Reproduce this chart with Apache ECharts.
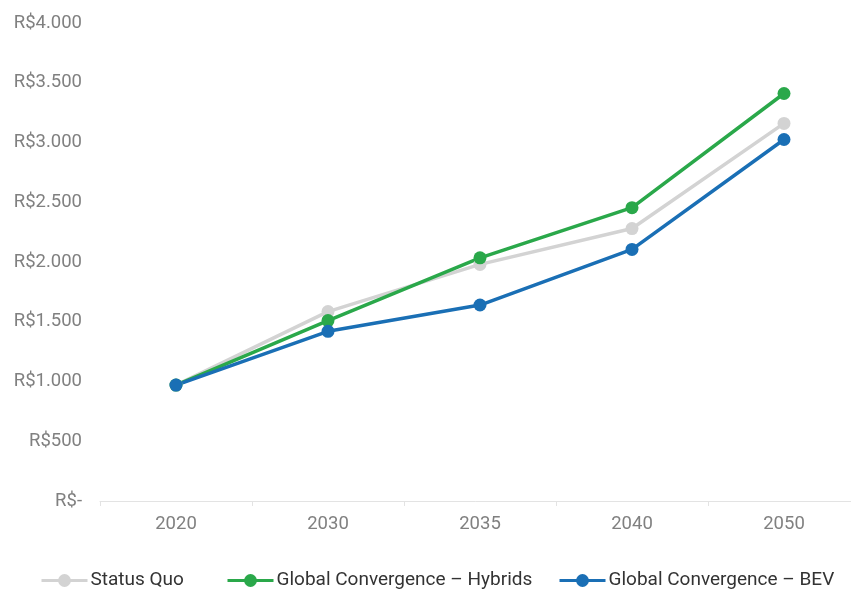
<!DOCTYPE html>
<html><head><meta charset="utf-8">
<script src="https://cdn.jsdelivr.net/npm/echarts@6/dist/echarts.min.js"></script>
<style>html,body{margin:0;padding:0;background:#fff}#c{width:851px;height:591px}</style>
</head><body><div id="c"></div>
<script>
var categories = ['2020','2030','2035','2040','2050'];
var statusQuo = [970, 1585, 1980, 2280, 3160];
var hybrids = [970, 1510, 2035, 2455, 3410];
var bev = [970, 1420, 1640, 2105, 3025];
var seriesNames = ['Status Quo','Global Convergence – Hybrids','Global Convergence – BEV'];
var colors = ['#d3d3d3','#2aa84a','#1a6fb5'];

function fmt(v){
  if (v === 0) return 'R$-';
  var s = String(v);
  if (v >= 1000) s = s.slice(0, s.length-3) + '.' + s.slice(-3);
  return 'R$' + s;
}
var font = 'Roboto, "DejaVu Sans", sans-serif';
var chart = echarts.init(document.getElementById('c'));
function mk(name, data, color){
  return {name:name, type:'line', data:data, symbol:'circle', symbolSize:13,
    lineStyle:{width:3.5, color:color}, itemStyle:{color:color}, z:2};
}
var legendLefts = [40, 226, 558];
function lg(i){
  return {top:571, left:legendLefts[i], itemWidth:46, itemHeight:16, itemGap:0, padding:0,
    lineStyle:{width:3},
    textStyle:{fontFamily:font, fontSize:19, color:'#333', padding:[0,0,0,-2]},
    data:[seriesNames[i]]};
}
chart.setOption({
  animation:false,
  color: colors,
  grid:{left:100, top:23, right:-9, bottom:90, containLabel:false, outerBoundsMode:'none'},
  legend:[lg(0), lg(1), lg(2)],
  xAxis:{type:'category', data:categories, boundaryGap:true,
    axisLine:{lineStyle:{color:'#e3e3e3', width:1}},
    axisTick:{show:true, length:5, lineStyle:{color:'#e3e3e3'}},
    axisLabel:{fontFamily:font, fontSize:18.5, color:'#808080', margin:14}},
  yAxis:{type:'value', min:0, max:4000, interval:500,
    axisLine:{show:false}, axisTick:{show:false}, splitLine:{show:false},
    axisLabel:{fontFamily:font, fontSize:18.5, color:'#808080', margin:18, formatter:fmt}},
  series:[mk(seriesNames[0], statusQuo, colors[0]), mk(seriesNames[1], hybrids, colors[1]), mk(seriesNames[2], bev, colors[2])]
});
</script></body></html>
